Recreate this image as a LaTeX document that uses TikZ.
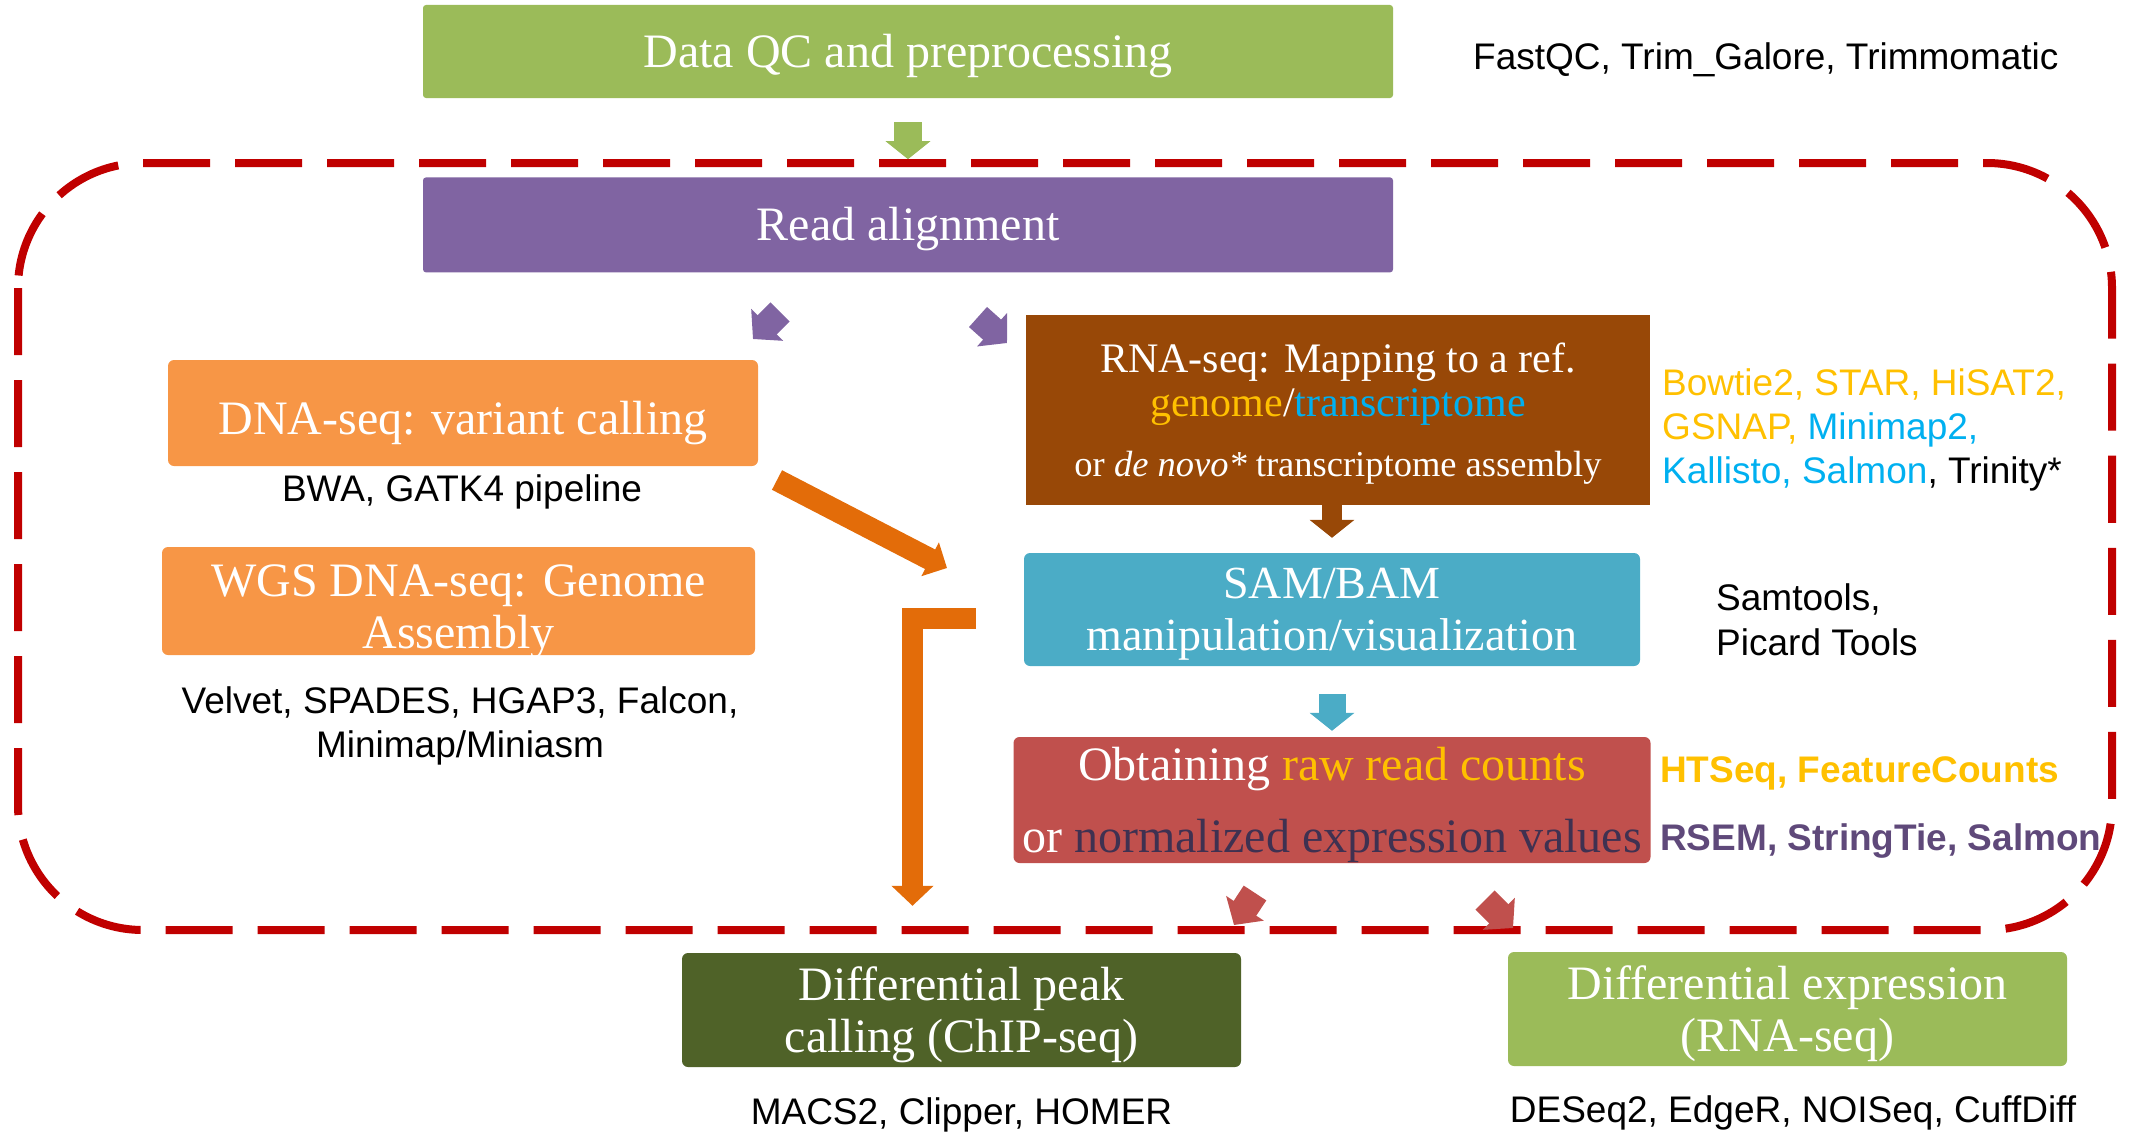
\documentclass[tikz,border=0pt]{standalone}
\usepackage{fontspec}
\setmainfont{Liberation Serif}
\setsansfont{Liberation Sans}
\usetikzlibrary{positioning, arrows.meta}
\definecolor{qcgreen}{HTML}{9BBB59}
\definecolor{alignpurple}{HTML}{8064A2}
\definecolor{dnaorange}{HTML}{F79646}
\definecolor{rnabrown}{HTML}{984807}
\definecolor{samblue}{HTML}{4BACC6}
\definecolor{countred}{HTML}{C0504D}
\definecolor{peakolive}{HTML}{4F6228}
\definecolor{arroworange}{HTML}{E36C09}
\definecolor{framered}{HTML}{C00000}
\definecolor{tooly}{HTML}{FFC000}
\definecolor{toolc}{HTML}{00B0F0}
\definecolor{toolp}{HTML}{5F497A}
\definecolor{normp}{HTML}{3F3151}
\tikzset{
    x=1pt, y=-1pt, % one unit per pixel, y runs down the page
    stepbox/.style={fill=#1, draw=none, text=white, rounded corners=6pt, align=center, inner sep=0pt, font=\fontsize{48}{52}\selectfont}, % a coloured step of the pipeline
    tooltext/.style={inner sep=0pt, font=\sffamily\fontsize{37}{44}\selectfont}, % tool names beside the steps
    blockarrow/.style={draw=#1, line width=28pt, -{Triangle[width=44pt, length=18pt]}}, % short fat arrow
    dashframe/.style={draw=framered, line width=8pt, dash pattern=on 67pt off 25pt, rounded corners=125pt}, % the red dashed frame
}
\begin{document}
\begin{tikzpicture}
\useasboundingbox (0,0) rectangle (2139,1132);
% steps
\node[stepbox=qcgreen, rounded corners=3pt, minimum width=970pt, minimum height=93pt, text depth=2pt] (qc) at (908,51.5) {Data QC and preprocessing};
\node[stepbox=alignpurple, rounded corners=3pt, minimum width=970pt, minimum height=95pt, text depth=2pt, below=79pt of qc] (align) {Read alignment};
\node[stepbox=dnaorange, minimum width=590pt, minimum height=106pt, text height=43pt, text depth=0pt] (dna) at (463,413) {DNA-seq: variant calling};
\node[stepbox=dnaorange, minimum width=593pt, minimum height=108pt, text height=95pt, text depth=0pt] (wgs) at (458.5,601) {WGS DNA-seq: Genome\\Assembly};
\node[stepbox=rnabrown, rounded corners=0pt, minimum width=624pt, minimum height=190pt, text depth=0pt, font=\fontsize{42}{44}\selectfont] (rna) at (1338,410)
    {RNA-seq: Mapping to a ref.\\{\color{tooly}genome}/{\color{toolc}transcriptome}\\[16pt]{\fontsize{36.5}{44}\selectfont or \textit{de novo*} transcriptome assembly}};
\node[stepbox=samblue, minimum width=616pt, minimum height=113pt, text depth=0pt, font=\fontsize{46}{52}\selectfont] (sam) at (1332,609.5) {SAM/BAM\\manipulation/visualization};
\node[stepbox=countred, minimum width=637pt, minimum height=126pt, text depth=0pt, font=\fontsize{48}{72}\selectfont] (counts) at (1332,800)
    {Obtaining {\color{tooly}raw read counts}\\or {\color{normp}normalized expression values}};
\node[stepbox=peakolive, minimum width=559pt, minimum height=114pt, text depth=0pt] (peak) at (961.5,1010) {Differential peak\\calling (ChIP-seq)};
\node[stepbox=qcgreen, minimum width=559pt, minimum height=114pt, text depth=0pt] (diffexp) at (1787.5,1009) {Differential expression\\(RNA-seq)};
% tools
\node[tooltext, anchor=base west] (qctools) at (1473,70) {FastQC, Trim\_Galore, Trimmomatic};
\node[tooltext, anchor=base] (dnatools) at (462,501) {BWA, GATK4 pipeline};
\node[tooltext, anchor=north, align=center] (wgstools) at (460,686.5) {Velvet, SPADES, HGAP3, Falcon,\\Minimap/Miniasm};
\node[tooltext, anchor=north west, align=left, text=tooly] (rnatools) at (1662,368.5)
    {Bowtie2, STAR, HiSAT2,\\GSNAP, {\color{toolc}Minimap2,}\\{\color{toolc}Kallisto, Salmon}{\color{black}, Trinity*}};
\node[tooltext, anchor=north west, align=left, font=\sffamily\fontsize{37}{45}\selectfont] (samtools) at (1716,583.5) {Samtools,\\Picard Tools};
\node[tooltext, anchor=base west, text=tooly, font=\sffamily\bfseries\fontsize{37}{44}\selectfont] (counttools) at (1660,782) {HTSeq, FeatureCounts};
\node[tooltext, anchor=base west, text=toolp, font=\sffamily\bfseries\fontsize{37}{44}\selectfont] (normtools) at (1660,850) {RSEM, StringTie, Salmon};
\node[tooltext, anchor=base] (peaktools) at (961.5,1124) {MACS2, Clipper, HOMER};
\node[tooltext, anchor=base] (detools) at (1793,1122) {DESeq2, EdgeR, NOISeq, CuffDiff};
% frame round the alignment part
\draw[dashframe] (18,163) rectangle (2112,930);
% free ends of the floating arrows
\coordinate (pl0) at (780,312); \coordinate (pl1) at (753,339);
\coordinate (pr0) at (978,317); \coordinate (pr1) at (1007,343);
\coordinate (rl0) at (1255,893); \coordinate (rl1) at (1234,925);
\coordinate (rr0) at (1485,900); \coordinate (rr1) at (1513,928);
\coordinate (od0) at (777,480); \coordinate (od1) at (947,568);
\coordinate (ol0) at (976,618.5); \coordinate (elbow) at (912.5,618.5);
% arrows
\draw[blockarrow=qcgreen, shorten <=24pt, shorten >=18pt] (qc) -- (align);
\draw[blockarrow=alignpurple, line width=27pt, -{Triangle[width=44pt, length=20pt]}] (pl0) -- (pl1);
\draw[blockarrow=alignpurple, line width=27pt, -{Triangle[width=44pt, length=20pt]}] (pr0) -- (pr1);
\draw[blockarrow=rnabrown, line width=20pt, shorten >=15pt] (rna.south -| sam.north) -- (sam.north);
\draw[blockarrow=samblue, line width=27pt, shorten <=28pt, shorten >=6pt] (sam) -- (counts);
\draw[blockarrow=countred, line width=27pt, -{Triangle[width=44pt, length=20pt]}] (rl0) -- (rl1);
\draw[blockarrow=countred, line width=27pt, -{Triangle[width=44pt, length=20pt]}] (rr0) -- (rr1);
\draw[blockarrow=arroworange, line width=22pt, -{Triangle[width=37pt, length=19pt]}] (od0) -- (od1);
\draw[blockarrow=arroworange, line width=21pt, line join=miter, -{Triangle[width=41pt, length=20pt]}, shorten >=47pt] (ol0) -- (elbow) -- (elbow |- peak.north);
\end{tikzpicture}
\end{document}
